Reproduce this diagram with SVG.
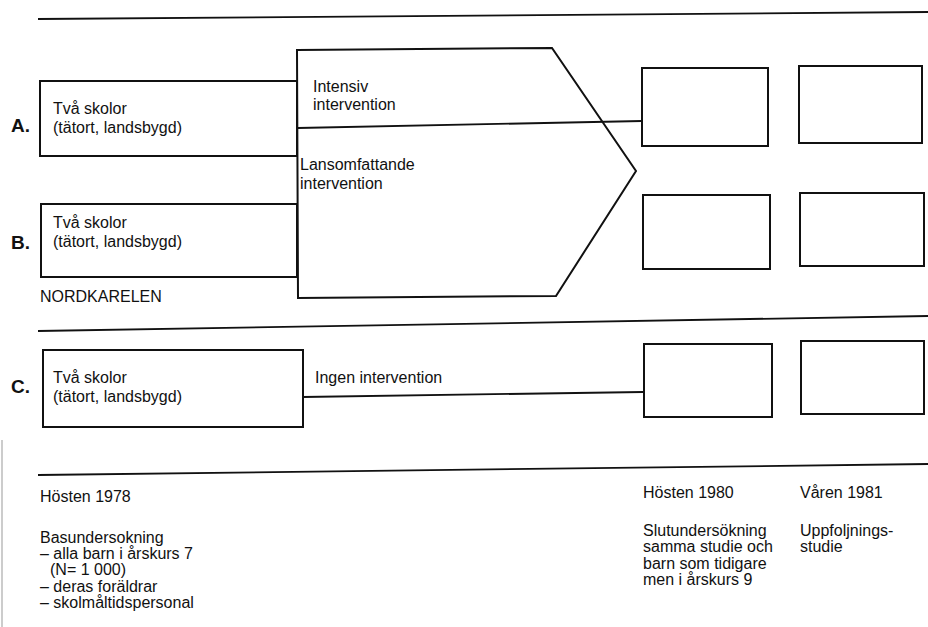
<svg xmlns="http://www.w3.org/2000/svg" width="928" height="627" viewBox="0 0 928 627">
<style>
  .bx { fill: none; stroke: #111; stroke-width: 2; }
  .ln { fill: none; stroke: #111; stroke-width: 1.8; }
  .t { font-family: "Liberation Sans", Arial, sans-serif; font-size: 16px; fill: #111; }
  .lab { font-family: "Liberation Sans", Arial, sans-serif; font-size: 19px; font-weight: bold; fill: #111; }
</style>
<rect width="928" height="627" fill="#fff"/>
<g id="separators">
  <line class="ln" x1="38" y1="19" x2="928" y2="12"/>
  <line class="ln" x1="38" y1="331" x2="928" y2="316"/>
  <line class="ln" x1="38" y1="475" x2="928" y2="464"/>
  <line x1="2" y1="440" x2="2" y2="627" stroke="#bbb" stroke-width="1.5"/>
</g>
<g id="connectors">
  <line class="ln" x1="298" y1="128" x2="642" y2="121"/>
  <line class="ln" x1="303" y1="397" x2="643" y2="392"/>
</g>
<g id="intervention">
  <polygon class="bx" points="297,50 552,48 636,171 556,296 298,298"/>
  <text class="t" x="313" y="92">Intensiv</text>
  <text class="t" x="313" y="110">intervention</text>
  <text class="t" x="300" y="170">Lansomfattande</text>
  <text class="t" x="300" y="189">intervention</text>
</g>
<g id="groupA">
  <rect class="bx" x="40" y="81" width="257" height="75"/>
  <text class="lab" x="11" y="132">A.</text>
  <text class="t" x="53" y="114">Två skolor</text>
  <text class="t" x="53" y="133">(tätort, landsbygd)</text>
</g>
<g id="groupB">
  <rect class="bx" x="41" y="204" width="256" height="73"/>
  <text class="lab" x="11" y="249">B.</text>
  <text class="t" x="53" y="228">Två skolor</text>
  <text class="t" x="53" y="247">(tätort, landsbygd)</text>
  <text class="t" x="40" y="302">NORDKARELEN</text>
</g>
<g id="groupC">
  <rect class="bx" x="43" y="350" width="260" height="77"/>
  <text class="lab" x="11" y="393">C.</text>
  <text class="t" x="53" y="383">Två skolor</text>
  <text class="t" x="53" y="402">(tätort, landsbygd)</text>
  <text class="t" x="315" y="383">Ingen intervention</text>
</g>
<g id="boxA1"><rect class="bx" x="642" y="68" width="126" height="78"/></g>
<g id="boxA2"><rect class="bx" x="799" y="66" width="123" height="77"/></g>
<g id="boxB1"><rect class="bx" x="643" y="195" width="127" height="74"/></g>
<g id="boxB2"><rect class="bx" x="800" y="193" width="124" height="73"/></g>
<g id="boxC1"><rect class="bx" x="644" y="344" width="128" height="73"/></g>
<g id="boxC2"><rect class="bx" x="801" y="341" width="123" height="73"/></g>
<g id="timeline">
  <text class="t" x="40" y="502">Hösten 1978</text>
  <text class="t" x="40" y="543">Basundersokning</text>
  <text class="t" x="40" y="559">– alla barn i årskurs 7</text>
  <text class="t" x="50" y="575">(N= 1 000)</text>
  <text class="t" x="40" y="592">– deras foräldrar</text>
  <text class="t" x="40" y="608">– skolmåltidspersonal</text>
  <text class="t" x="643" y="498">Hösten 1980</text>
  <text class="t" x="800" y="498">Våren 1981</text>
  <text class="t" x="643" y="536">Slutundersökning</text>
  <text class="t" x="643" y="552">samma studie och</text>
  <text class="t" x="643" y="569">barn som tidigare</text>
  <text class="t" x="643" y="585">men i årskurs 9</text>
  <text class="t" x="800" y="536">Uppfoljnings-</text>
  <text class="t" x="800" y="552">studie</text>
</g>
</svg>
